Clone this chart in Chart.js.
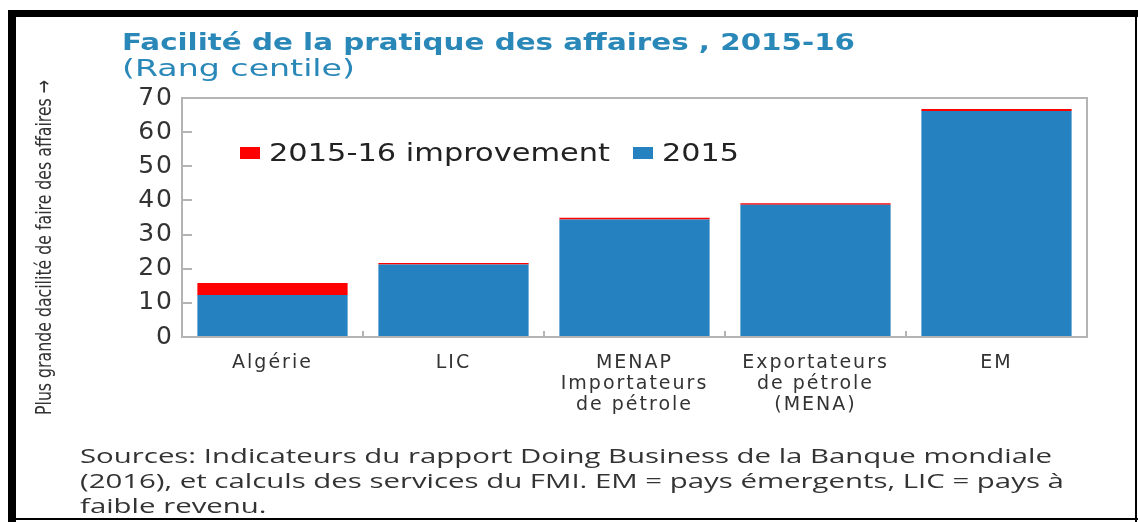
<!DOCTYPE html>
<html>
<head>
<meta charset="utf-8">
<script src="https://cdn.jsdelivr.net/npm/chart.js@4"></script>
<style>
  html, body { margin: 0; padding: 0; background: #fff; }
  #wrap { width: 1138px; height: 522px; }
</style>
</head>
<body>
<div id="wrap"><canvas id="chart" width="1138" height="522"></canvas></div>
<script>
// data
const categories = [
    ['Algérie'],
    ['LIC'],
    ['MENAP', 'Importateurs', 'de pétrole'],
    ['Exportateurs', 'de pétrole', '(MENA)'],
    ['EM']
];
const rank2015 = [12.3, 21.2, 34.4, 38.7, 66.2];
const improvement = [3.5, 0.5, 0.5, 0.5, 0.6];
const yTickValues = [0, 10, 20, 30, 40, 50, 60, 70];

const titleText = 'Facilité de la pratique des affaires , 2015-16';
const subtitleText = '(Rang centile)';
const yTitleText = 'Plus grande dacilité de faire des affaires →';
const sourceLines = [
    'Sources: Indicateurs du rapport Doing Business de la Banque mondiale',
    '(2016), et calculs des services du FMI. EM = pays émergents, LIC = pays à',
    'faible revenu.'
];

const BLUE = '#2681c0';
const RED = '#ff0000';
const TEXT = '#333333';
const AXIS = '#b4b4b4';
const TITLE_BLUE = '#2a88b9';

// fit a line of text into a given width by squeezing/stretching it
function fitText(ctx, text, x, y, width) {
    const w = ctx.measureText(text).width;
    ctx.save();
    ctx.translate(x, y);
    ctx.scale(width / w, 1);
    ctx.fillText(text, 0, 0);
    ctx.restore();
}

const decor = {
    id: 'decor',
    beforeDraw(chart) {
        const ctx = chart.ctx;
        ctx.save();
        ctx.fillStyle = '#fff';
        ctx.fillRect(0, 0, chart.width, chart.height);
        ctx.restore();
        // the reference tick labels are set wide
        ctx.letterSpacing = '2px';
    },
    beforeDatasetsDraw(chart) {
        chart.ctx.letterSpacing = '0px';
    },
    afterDraw(chart) {
        const ctx = chart.ctx;
        const a = chart.chartArea;
        ctx.save();
        ctx.letterSpacing = '0px';

        // plot box
        ctx.strokeStyle = AXIS;
        ctx.lineWidth = 2;
        ctx.strokeRect(a.left, a.top, a.right - a.left, a.bottom - a.top);

        // title + subtitle
        ctx.fillStyle = TITLE_BLUE;
        ctx.textBaseline = 'alphabetic';
        ctx.textAlign = 'left';
        ctx.font = 'bold 23px "DejaVu Sans"';
        fitText(ctx, titleText, 122, 50, 733);
        ctx.font = '23px "DejaVu Sans"';
        fitText(ctx, subtitleText, 122, 76, 233);

        // legend (red first, then blue)
        const items = [chart.data.datasets[1], chart.data.datasets[0]];
        const textW = [341, 77];
        let x = a.left + 58;
        const cy = a.top + 55;
        ctx.font = '25px "DejaVu Sans"';
        ctx.textBaseline = 'middle';
        items.forEach((ds, i) => {
            ctx.fillStyle = ds.backgroundColor;
            ctx.fillRect(x, cy - 6, 20, 12);
            x += 29;
            ctx.fillStyle = '#222';
            fitText(ctx, ds.label, x, cy + 1, textW[i]);
            x += textW[i] + 23;
        });

        // y axis title
        ctx.save();
        ctx.translate(45, 415);
        ctx.rotate(-Math.PI / 2);
        ctx.fillStyle = TEXT;
        ctx.font = '22px "Liberation Sans Narrow", "DejaVu Sans Condensed", "Liberation Sans"';
        ctx.textBaseline = 'middle';
        fitText(ctx, yTitleText, 0, 0, 335);
        ctx.restore();

        // sources
        ctx.fillStyle = TEXT;
        ctx.textBaseline = 'alphabetic';
        ctx.font = '20px "Open Sans"';
        const s = 972 / ctx.measureText(sourceLines[0]).width;
        sourceLines.forEach((line, i) => {
            ctx.save();
            ctx.translate(80, 463 + i * 25);
            ctx.scale(s, 1);
            ctx.fillText(line, 0, 0);
            ctx.restore();
        });

        // frame
        ctx.fillStyle = '#000';
        ctx.fillRect(8, 10, 8, 512);
        ctx.fillRect(8, 10, 1130, 7);
        ctx.fillRect(1135, 10, 2, 512);
        ctx.fillRect(8, 518, 1130, 2);
        ctx.restore();
    }
};

new Chart(document.getElementById('chart'), {
    type: 'bar',
    data: {
        labels: categories,
        datasets: [{
            label: '2015',
            data: rank2015,
            backgroundColor: BLUE,
            categoryPercentage: 1,
            barPercentage: 0.83
        }, {
            label: '2015-16 improvement',
            data: improvement,
            backgroundColor: RED,
            categoryPercentage: 1,
            barPercentage: 0.83
        }]
    },
    options: {
        responsive: false,
        animation: false,
        devicePixelRatio: 1,
        layout: {
            padding: { left: 0, top: 98, right: 51, bottom: 100 }
        },
        plugins: {
            legend: { display: false },
            title: { display: false },
            tooltip: { enabled: false }
        },
        scales: {
            x: {
                stacked: true,
                border: { display: false },
                grid: {
                    offset: true,
                    drawOnChartArea: false,
                    drawTicks: true,
                    tickLength: -6,
                    color: AXIS,
                    lineWidth: 2
                },
                ticks: {
                    color: TEXT,
                    font: { family: '"DejaVu Sans"', size: 19, lineHeight: 1.1 },
                    padding: 22,
                    maxRotation: 0,
                    autoSkip: false
                },
                afterFit(scale) { scale.height = 85; }
            },
            y: {
                stacked: true,
                min: 0,
                max: 70,
                border: { display: false },
                grid: {
                    drawOnChartArea: false,
                    drawTicks: true,
                    tickLength: -10,
                    color: AXIS,
                    lineWidth: 2
                },
                afterBuildTicks(scale) {
                    scale.ticks = yTickValues.map(v => ({ value: v }));
                },
                ticks: {
                    color: TEXT,
                    font: { family: '"DejaVu Sans"', size: 25 },
                    padding: 18
                },
                afterFit(scale) { scale.width = 182; }
            }
        }
    },
    plugins: [decor]
});
</script>
</body>
</html>
